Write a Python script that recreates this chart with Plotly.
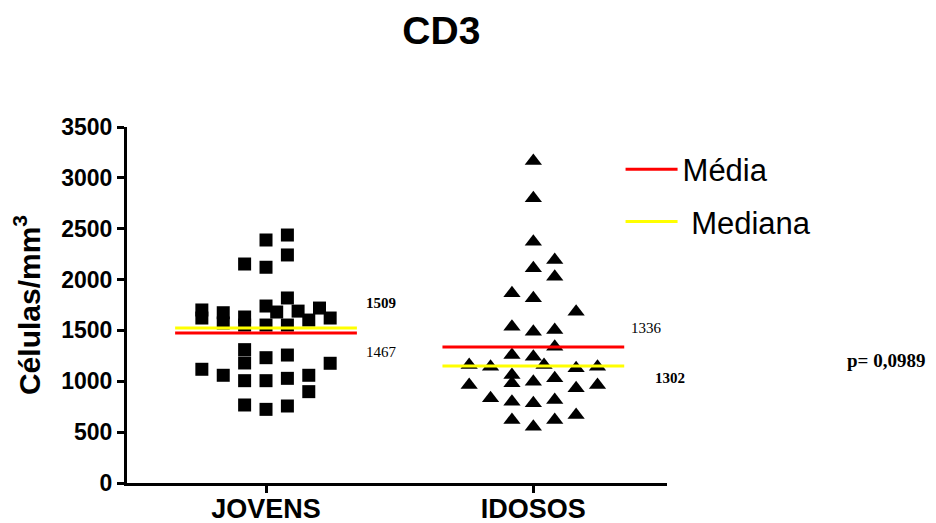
import plotly.graph_objects as go

# ---------------- data ----------------
groups = ["JOVENS", "IDOSOS"]

jovens_values = [2389, 2438, 2242, 2153, 2121,
                 1701, 1622, 1674, 1573, 1632, 1553, 1740, 1553, 1681, 1819,
                 1553, 1690, 1602, 1720, 1622,
                 1118, 1059, 1311, 1180, 1006, 767, 1232, 1006, 724, 1258,
                 1029, 757, 1059, 898, 1177]
# column slot of each point in the dot plot (beeswarm column index)
jovens_slots = [0, 1, 1, -1, 0,
                -3, -3, -2, -2, -1, -1, 0, 0, 0.5, 1,
                1, 1.5, 2, 2.5, 3,
                -3, -2, -1, -1, -1, -1, 0, 0, 0, 1,
                1, 1, 2, 2, 3]

idosos_values = [3166, 2799, 2372, 2192, 2111, 2028,
                 1865, 1816, 1684, 1537, 1488, 1504, 1340, 1258, 1242,
                 1160, 1160, 1143, 1127, 1143, 1062, 980, 963, 996, 1029,
                 931, 963, 833, 799, 783, 816, 619, 553, 619, 668]
idosos_slots = [0, 0, 0, 1, 0, 1,
                -1, 0, 2, -1, 0, 1, 1, -1, 0,
                0.5, -3, -2, 2, 3, -1, -1, -3, 0, 1,
                2, 3, -2, -1, 0, 1, -1, 0, 1, 2]

mean_lines = [1475, 1336]     # red lines as drawn
median_lines = [1525, 1150]   # yellow lines as drawn

mean_labels = ["1467", "1336"]
median_labels = ["1509", "1302"]
p_label = "p= 0,0989"

y_ticks = [0, 500, 1000, 1500, 2000, 2500, 3000, 3500]

# ---------------- layout helpers ----------------
slot_w = 0.08
half = 0.34

fig = go.Figure()

fig.add_trace(go.Scatter(
    x=[0 + s * slot_w for s in jovens_slots], y=jovens_values,
    mode="markers", showlegend=False,
    marker=dict(symbol="square", size=13, color="black", line=dict(width=0))))

fig.add_trace(go.Scatter(
    x=[1 + s * slot_w for s in idosos_slots], y=idosos_values,
    mode="markers", showlegend=False,
    marker=dict(symbol="triangle-up", size=15, color="black", line=dict(width=0))))

def seg(vals):
    xs, ys = [], []
    for i, v in enumerate(vals):
        xs += [i - half, i + half, None]
        ys += [v, v, None]
    return xs, ys

mx, my = seg(mean_lines)
fig.add_trace(go.Scatter(x=mx, y=my, mode="lines", name="Média",
                         legendgroup="a",
                         line=dict(color="#FF0000", width=3)))
dx, dy = seg(median_lines)
fig.add_trace(go.Scatter(x=dx, y=dy, mode="lines", name=" Mediana",
                         legendgroup="b",
                         line=dict(color="#FFFF00", width=3)))

serif = "Liberation Serif"
ann = [
    dict(x=0.367, xref="x", y=1770, text="<b>" + median_labels[0] + "</b>", size=15),
    dict(x=0.367, xref="x", y=1288, text=mean_labels[0], size=15),
    dict(x=1.356, xref="x", y=1524, text=mean_labels[1], size=15),
    dict(x=1.446, xref="x", y=1032, text="<b>" + median_labels[1] + "</b>", size=15),
    dict(x=1.33, xref="paper", y=1209, text="<b>" + p_label + "</b>", size=19),
]
for a in ann:
    fig.add_annotation(x=a["x"], y=a["y"], xref=a["xref"], yref="y", text=a["text"],
                       showarrow=False, xanchor="left", yanchor="middle",
                       font=dict(family=serif, size=a["size"], color="black"))

fig.update_layout(
    width=936, height=523,
    paper_bgcolor="white", plot_bgcolor="white",
    margin=dict(l=119, r=277, t=119, b=48, autoexpand=False),
    title=dict(text="<b>CD3</b>", x=0.463, xanchor="center", y=0.958,
               yanchor="middle", xref="container", yref="container",
               font=dict(family="Liberation Sans", size=39, color="black")),
    legend=dict(x=0.914, y=0.956, xanchor="left", yanchor="top",
                font=dict(family="Liberation Sans", size=31, color="black"),
                traceorder="grouped", tracegroupgap=9, itemwidth=52,
                bgcolor="rgba(0,0,0,0)"),
    showlegend=True,
)

fig.update_xaxes(range=[-0.52, 1.50], tickvals=[0, 1], ticktext=groups,
                 automargin=False, ticklabelstandoff=-7,
                 showgrid=False, zeroline=False, showline=True,
                 linecolor="black", linewidth=3, ticks="outside", ticklen=7,
                 tickwidth=3, tickcolor="black",
                 tickfont=dict(family="Liberation Sans", size=27, color="black",
                               weight="bold"))
fig.update_yaxes(range=[0, 3500], tickvals=y_ticks, automargin=False,
                 showgrid=False, zeroline=False, showline=True,
                 linecolor="black", linewidth=3, ticks="outside", ticklen=7,
                 tickwidth=3, tickcolor="black",
                 tickfont=dict(family="Liberation Sans", size=23, color="black",
                               weight="bold"),
                 title=dict(text="<b>Células/mm<sup>3</sup></b>", standoff=20,
                            font=dict(family="Liberation Sans", size=30,
                                      color="black")))

fig.write_html("out.html")
